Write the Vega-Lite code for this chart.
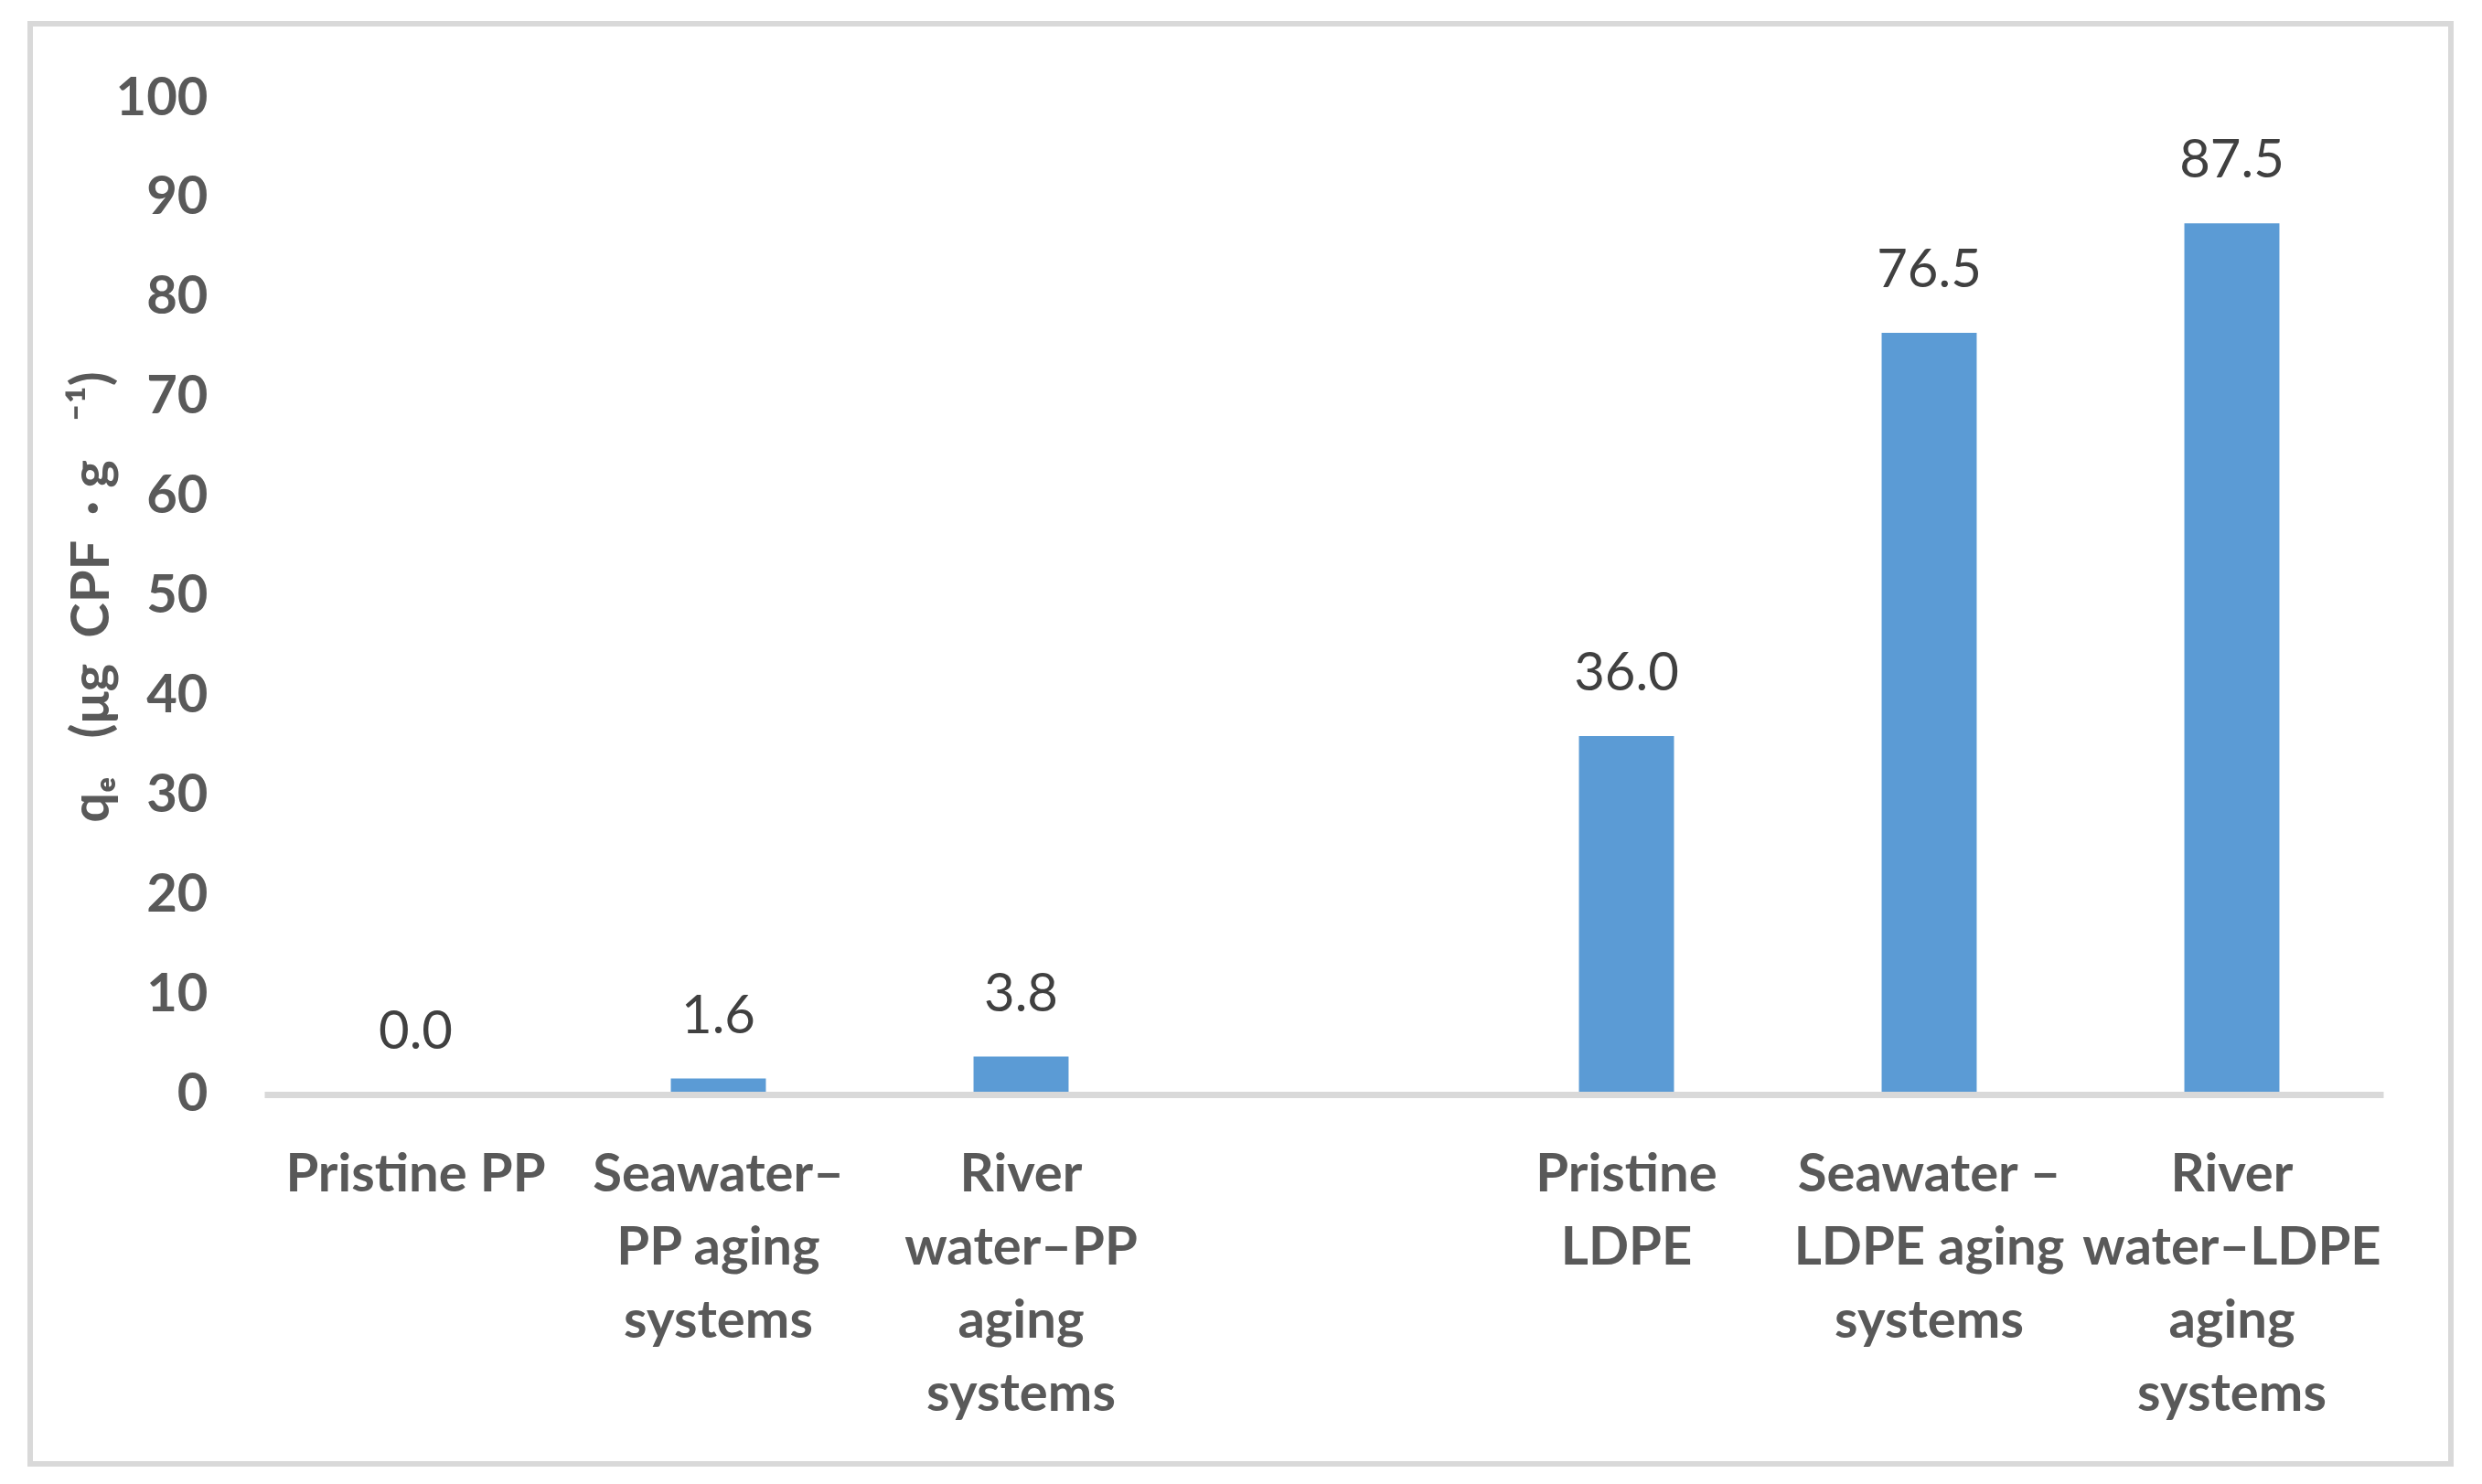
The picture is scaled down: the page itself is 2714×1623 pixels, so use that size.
{
  "$schema": "https://vega.github.io/schema/vega-lite/v6.json",
  "width": 2647,
  "height": 1575,
  "autosize": {"type": "none"},
  "padding": {"left": 33, "top": 26, "right": 34, "bottom": 22},
  "background": "white",
  "data": {
    "values": [
      {"sample": "Pristine PP", "qe": 0.0},
      {"sample": "Seawater–|PP aging|systems", "qe": 1.6},
      {"sample": "River|water–PP|aging|systems", "qe": 3.8},
      {"sample": "Pristine|LDPE", "qe": 36.0},
      {"sample": "Seawater –|LDPE aging|systems", "qe": 76.5},
      {"sample": "River|water–LDPE|aging|systems", "qe": 87.5}
    ]
  },
  "encoding": {
    "x": {
      "field": "sample",
      "type": "nominal",
      "sort": null,
      "scale": {
        "domain": ["Pristine PP", "Seawater–|PP aging|systems", "River|water–PP|aging|systems", " ", "Pristine|LDPE", "Seawater –|LDPE aging|systems", "River|water–LDPE|aging|systems"],
        "range": [256, 2573],
        "paddingInner": 0.686,
        "paddingOuter": 0.343
      },
      "axis": {
        "orient": "bottom",
        "offset": -404,
        "title": null,
        "domain": true,
        "domainColor": "#d9d9d9",
        "domainWidth": 7,
        "ticks": false,
        "grid": false,
        "labelAngle": 0,
        "labelFont": "Lato",
        "labelFontWeight": "bold",
        "labelFontSize": 58,
        "labelColor": "#595959",
        "labelLineHeight": 80,
        "labelPadding": 59,
        "labelLimit": 1000,
        "labelBaseline": "top",
        "labelOverlap": false,
        "labelFlush": false,
        "labelExpr": "split(datum.label, '|')",
        "zindex": 1
      }
    },
    "y": {
      "field": "qe",
      "type": "quantitative",
      "scale": {"domain": [0, 100], "range": [1171, 82], "nice": false, "zero": true},
      "axis": {
        "orient": "left",
        "offset": -194,
        "values": [0, 10, 20, 30, 40, 50, 60, 70, 80, 90, 100],
        "domain": false,
        "ticks": false,
        "grid": false,
        "labelPadding": 0,
        "labelFont": "Lato",
        "labelFontWeight": "bold",
        "labelFontSize": 58,
        "labelColor": "#595959",
        "title": "qₑ\u00a0\u00a0 (μg\u00a0 CPF\u00a0 · g\u00a0\u00a0 ⁻¹)",
        "titleFont": "Lato, DejaVu Sans",
        "titleFontWeight": "bold",
        "titleFontSize": 58,
        "titleColor": "#595959",
        "titlePadding": -4
      }
    }
  },
  "layer": [
    {"mark": {"type": "bar", "color": "#5B9BD5"}},
    {
      "mark": {"type": "text", "align": "center", "baseline": "alphabetic", "dy": -50, "font": "Lato", "fontSize": 58, "color": "#404040"},
      "encoding": {"text": {"field": "qe", "type": "quantitative", "format": ".1f"}}
    }
  ],
  "config": {
    "view": {"stroke": "#d9d9d9", "strokeWidth": 6}
  }
}
